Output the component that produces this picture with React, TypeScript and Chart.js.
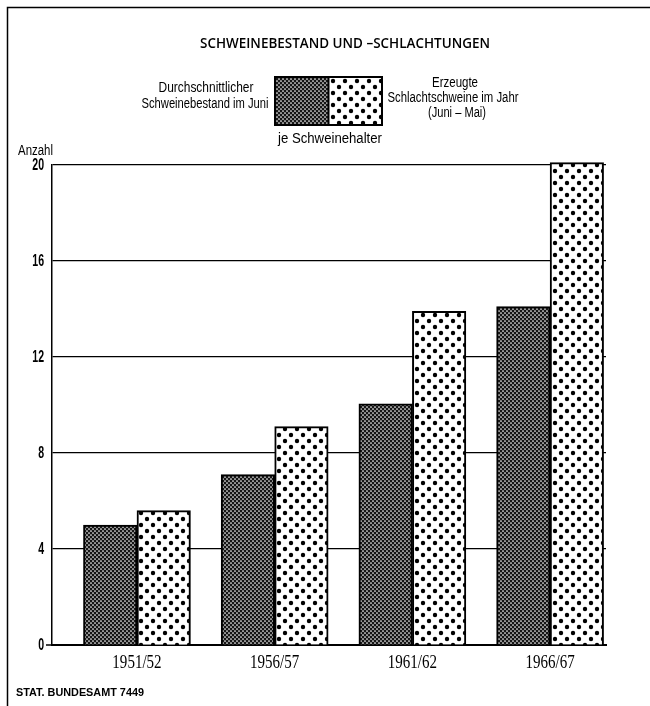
import React, { useEffect, useRef } from "react";
import { Chart, registerables } from "chart.js";

Chart.register(...registerables);

const categories = ["1951/52", "1956/57", "1961/62", "1966/67"];
const bestand = [5.0, 7.1, 10.05, 14.1];
const schlachtungen = [5.6, 9.1, 13.9, 20.1];
const yTicks = [0, 4, 8, 12, 16, 20];
const titleText = "SCHWEINEBESTAND UND –SCHLACHTUNGEN";
const legendLeft = ["Durchschnittlicher", "Schweinebestand im Juni"];
const legendRight = ["Erzeugte", "Schlachtschweine im Jahr", "(Juni – Mai)"];
const legendBottom = "je Schweinehalter";
const yTitle = "Anzahl";
const sourceText = "STAT. BUNDESAMT 7449";

const SANS = "'Liberation Sans', Arial, sans-serif";
const SERIF = "'Liberation Serif', 'DejaVu Serif', serif";

function makeDark(ctx: CanvasRenderingContext2D) {
  const c = document.createElement("canvas");
  c.width = 4;
  c.height = 4;
  const g = c.getContext("2d")!;
  g.fillStyle = "#161616";
  g.fillRect(0, 0, 4, 4);
  g.fillStyle = "#ffffff";
  g.beginPath();
  g.arc(1, 1, 0.85, 0, Math.PI * 2);
  g.fill();
  g.beginPath();
  g.arc(3, 3, 0.85, 0, Math.PI * 2);
  g.fill();
  return ctx.createPattern(c, "repeat")!;
}

function makeDots(ctx: CanvasRenderingContext2D) {
  const c = document.createElement("canvas");
  c.width = 12;
  c.height = 12;
  const g = c.getContext("2d")!;
  g.fillStyle = "#ffffff";
  g.fillRect(0, 0, 12, 12);
  g.fillStyle = "#000000";
  g.beginPath();
  g.arc(3, 3, 2.2, 0, Math.PI * 2);
  g.fill();
  g.beginPath();
  g.arc(9, 9, 2.2, 0, Math.PI * 2);
  g.fill();
  return ctx.createPattern(c, "repeat")!;
}

function fitText(
  c: CanvasRenderingContext2D,
  text: string,
  x: number,
  y: number,
  align: CanvasTextAlign,
  font: string,
  width: number
) {
  c.save();
  c.font = font;
  const w = c.measureText(text).width;
  const s = width / w;
  c.translate(x, y);
  c.scale(s, 1);
  c.textAlign = align;
  c.textBaseline = "middle";
  c.fillText(text, 0, 0);
  c.restore();
}

function scaledText(
  c: CanvasRenderingContext2D,
  text: string,
  x: number,
  y: number,
  align: CanvasTextAlign,
  font: string,
  sx: number
) {
  c.save();
  c.font = font;
  c.translate(x, y);
  c.scale(sx, 1);
  c.textAlign = align;
  c.textBaseline = "middle";
  c.fillText(text, 0, 0);
  c.restore();
}

export default function App() {
  const ref = useRef<HTMLCanvasElement | null>(null);

  useEffect(() => {
    const canvas = ref.current!;
    const ctx = canvas.getContext("2d")!;
    const dark = makeDark(ctx);
    const dots = makeDots(ctx);

    const decor = {
      id: "decor",
      beforeDraw(chart: any) {
        const c = chart.ctx;
        c.save();
        c.fillStyle = "#fff";
        c.fillRect(0, 0, chart.width, chart.height);
        c.restore();
      },
      afterDraw(chart: any) {
        const c = chart.ctx as CanvasRenderingContext2D;
        c.save();
        // frame
        c.strokeStyle = "#000";
        c.lineWidth = 1.5;
        c.beginPath();
        c.moveTo(7.5, 706);
        c.lineTo(7.5, 7.5);
        c.lineTo(650, 7.5);
        c.stroke();

        c.fillStyle = "#000";
        // title
        fitText(c, titleText, 345, 44, "center", "600 15px 'Open Sans', sans-serif", 290);

        // legend swatches
        const sx = 275, sw = 53.5, sy = 77, sh = 48;
        c.fillStyle = dark;
        c.fillRect(sx, sy, sw, sh);
        c.fillStyle = dots;
        c.fillRect(sx + sw, sy, sw, sh);
        c.lineWidth = 2;
        c.strokeStyle = "#000";
        c.strokeRect(sx, sy, sw * 2, sh);
        c.beginPath();
        c.moveTo(sx + sw, sy);
        c.lineTo(sx + sw, sy + sh);
        c.stroke();

        c.fillStyle = "#000";
        const lf = `14px ${SANS}`;
        fitText(c, legendLeft[0], 206, 88, "center", lf, 95);
        fitText(c, legendLeft[1], 205, 104, "center", lf, 127);
        fitText(c, legendRight[0], 455, 83, "center", lf, 46);
        fitText(c, legendRight[1], 453, 98, "center", lf, 131);
        fitText(c, legendRight[2], 457, 113, "center", lf, 58);
        fitText(c, legendBottom, 330, 139, "center", lf, 104);
        fitText(c, yTitle, 18, 151, "left", lf, 35);
        fitText(c, sourceText, 16, 693, "left", `bold 10px ${SANS}`, 128);

        // y tick labels
        const ys = chart.scales.y;
        yTicks.forEach((v) => {
          scaledText(c, String(v), 44, ys.getPixelForValue(v) + 1, "right", `bold 16px ${SANS}`, 0.66);
        });
        // small tick at zero
        c.strokeStyle = "#000";
        c.lineWidth = 1.5;
        c.beginPath();
        c.moveTo(46, ys.getPixelForValue(0));
        c.lineTo(52, ys.getPixelForValue(0));
        c.stroke();
        // x tick labels
        const xs = chart.scales.x;
        categories.forEach((lab, i) => {
          scaledText(c, lab, xs.getPixelForValue(i), 663, "center", `19px ${SERIF}`, 0.79);
        });
        c.restore();
      },
    };

    const chart = new Chart(ctx, {
      type: "bar",
      data: {
        datasets: [
          {
            label: "Durchschnittlicher Schweinebestand im Juni",
            data: bestand.map((v, i) => ({ x: i, y: v })),
            backgroundColor: dark,
            borderColor: "#000",
            borderWidth: 2,
            barThickness: 53.5,
            clip: false as any,
          },
          {
            label: "Erzeugte Schlachtschweine im Jahr (Juni – Mai)",
            data: schlachtungen.map((v, i) => ({ x: i, y: v })),
            backgroundColor: dots,
            borderColor: "#000",
            borderWidth: 2,
            barThickness: 53.5,
            clip: false as any,
          },
        ],
      },
      options: {
        animation: false,
        responsive: false,
        layout: { padding: { top: 165, right: 44, left: 0, bottom: 0 } },
        plugins: {
          legend: { display: false },
          tooltip: { enabled: false },
          title: { display: false },
        },
        scales: {
          x: {
            type: "linear",
            offset: false,
            min: -0.617,
            max: 3.406,
            afterBuildTicks: (s: any) => {
              s.ticks = categories.map((_, i) => ({ value: i }));
            },
            afterFit: (s: any) => {
              s.height = 61;
            },
            grid: { display: false, drawTicks: false },
            border: { display: true, color: "#000", width: 2 },
            ticks: { display: false },
          },
          y: {
            min: 0,
            max: 20,
            afterBuildTicks: (s: any) => {
              s.ticks = yTicks.map((v) => ({ value: v }));
            },
            afterFit: (s: any) => {
              s.width = 52;
            },
            grid: { color: "#000", lineWidth: 1.2, drawTicks: false },
            border: { display: true, color: "#000", width: 1.5 },
            ticks: { display: false },
          },
        },
      },
      plugins: [decor],
    });
    return () => chart.destroy();
  }, []);

  return (
    <div style={{ position: "absolute", left: 0, top: 0, width: 650, height: 706 }}>
      <canvas ref={ref} width={650} height={706} style={{ display: "block", width: 650, height: 706 }} />
    </div>
  );
}
